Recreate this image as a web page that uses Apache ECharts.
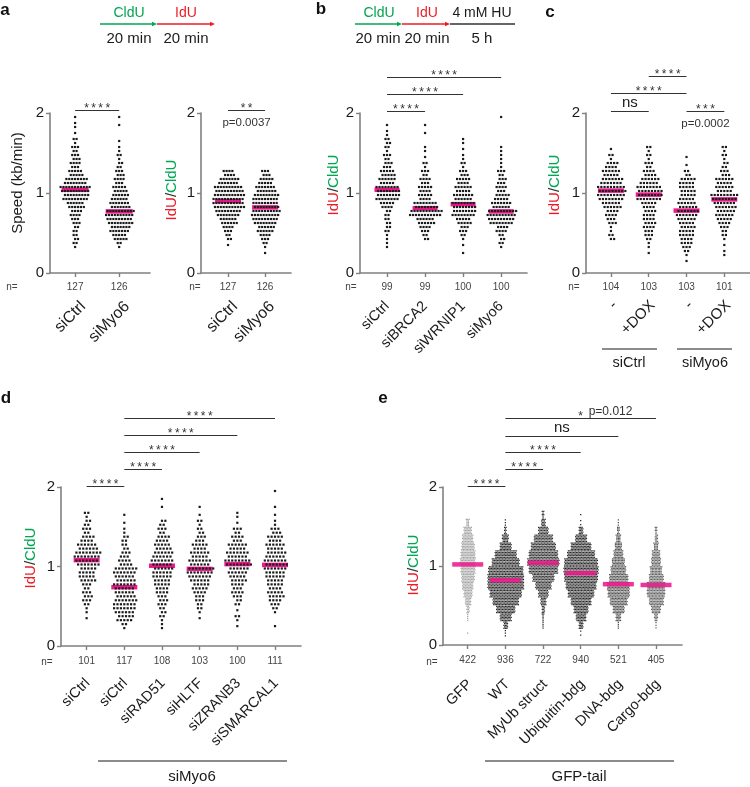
<!DOCTYPE html>
<html><head><meta charset="utf-8">
<script src="https://cdn.jsdelivr.net/npm/echarts@6.0.0/dist/echarts.min.js"></script>
<style>html,body{margin:0;padding:0;background:#fff}#c{width:750px;height:787px}</style>
</head><body><div id="c"></div>
<script>
// ---------------- DATA ----------------
const BIN = 0.1; // each histogram entry = number of dots in [k*0.1, (k+1)*0.1)
const yTicks = [0, 1, 2];

// panel a – speed
const aSpeedCats = ['siCtrl', 'siMyo6'];
const aSpeedN = [127, 126];
const aSpeedMed = [1.04, 0.77];
const aSpeed_siCtrl = [0,0,0,3,4,4,6,8,12,18,21,16,10,7,6,5,3,1,2,1];
const aSpeed_siMyo6 = [0,0,0,3,10,14,18,20,14,12,10,7,6,4,3,2,1,0,1,1];

// panel a – IdU/CldU
const aRatioCats = ['siCtrl', 'siMyo6'];
const aRatioN = [127, 126];
const aRatioMed = [0.90, 0.82];
const aRatio_siCtrl = [0,0,0,1,4,7,12,17,22,22,20,14,8,0,0,0,0,0,0,0];
const aRatio_siMyo6 = [0,0,1,3,7,12,17,20,18,18,14,10,6,0,0,0,0,0,0,0];

// panel b
const bCats = ['siCtrl', 'siBRCA2', 'siWRNIP1', 'siMyo6'];
const bN = [99, 99, 100, 100];
const bMed = [1.04, 0.81, 0.86, 0.77];
const b_siCtrl   = [0,0,0,2,2,4,4,4,9,16,16,11,10,6,5,3,4,2,1,0];
const b_siBRCA2  = [0,0,0,0,4,7,12,22,16,9,9,7,5,3,1,2,0,1,1,0];
const b_siWRNIP1 = [0,0,1,1,3,6,10,16,16,13,11,9,6,3,2,1,2,0,0,0];
const b_siMyo6   = [0,0,0,3,4,8,17,20,13,10,7,6,5,2,2,2,0,0,0,1];

// panel c
const cCats = ['-', '+DOX', '-', '+DOX'];
const cN = [104, 103, 103, 101];
const cMed = [1.03, 0.98, 0.78, 0.92];
const c_siCtrl_minus = [0,0,0,0,4,2,6,8,12,17,18,14,11,8,3,1,0,0,0,0];
const c_siCtrl_dox   = [0,0,1,2,5,7,8,8,9,16,16,12,8,5,3,3,0,0,0,0];
const c_siMyo6_minus = [0,1,3,7,9,10,11,14,12,10,10,10,4,1,1,0,0,0,0,0];
const c_siMyo6_dox   = [0,0,2,1,3,5,9,12,14,17,11,11,6,4,3,3,0,0,0,0];
const cGroups = ['siCtrl', 'siMyo6'];

// panel d
const dCats = ['siCtrl', 'siCtrl', 'siRAD51', 'siHLTF', 'siZRANB3', 'siSMARCAL1'];
const dN = [101, 117, 108, 103, 100, 111];
const dMed = [1.08, 0.74, 1.01, 0.97, 1.03, 1.02];
const d_siCtrl      = [0,0,0,1,2,5,6,5,10,10,14,16,12,8,5,4,3,0,0,0];
const d_siCtrlMyo6  = [0,0,3,10,13,14,12,13,12,14,8,6,4,4,2,1,1,0,0,0];
const d_siRAD51     = [0,0,2,3,4,6,7,9,11,12,13,12,10,8,5,4,0,1,1,0];
const d_siHLTF      = [0,0,0,1,3,5,7,10,13,16,13,11,9,6,4,3,1,1,0,0];
const d_siZRANB3    = [0,0,1,3,1,4,7,7,10,12,16,13,11,7,5,1,2,0,0,0];
const d_siSMARCAL1  = [0,0,1,0,3,7,10,9,11,13,14,12,11,9,6,2,1,1,0,1];
const dGroup = 'siMyo6';

// panel e
const eCats = ['GFP', 'WT', 'MyUb struct', 'Ubiquitin-bdg', 'DNA-bdg', 'Cargo-bdg'];
const eN = [422, 936, 722, 940, 521, 405];
const eMed = [1.02, 0.82, 1.04, 0.91, 0.77, 0.76];
const e_GFP   = [0,1,0,4,10,20,30,38,45,50,52,50,45,38,28,11,0,0,0,0];
const e_WT    = [0,3,15,40,65,90,110,125,125,120,95,75,40,22,8,3,0,0,0,0];
const e_MyUb  = [0,0,4,6,10,20,35,55,75,100,110,100,85,65,35,15,7,0,0,0];
const e_Ubq   = [0,2,15,35,50,70,90,105,115,120,115,95,70,40,15,2,1,0,0,0];
const e_DNA   = [0,0,4,18,40,60,75,78,65,52,44,33,24,16,9,3,0,0,0,0];
const e_Cargo = [0,0,3,12,32,50,62,62,50,41,32,28,16,10,7,0,0,0,0,0];
const eGroup = 'GFP-tail';

// significance brackets: [from, to, level, label, extra text, extra position]
const aSpeedSig = [[0, 1, 2.04, '****']];
const aRatioSig = [[0, 1, 2.04, '**', 'p=0.0037', 'below']];
const bSig = [[0, 1, 2.03, '****'], [0, 2, 2.24, '****'], [0, 3, 2.45, '****']];
const cSig = [[0, 1, 2.03, 'ns'], [0, 2, 2.25, '****'], [1, 2, 2.46, '****'], [2, 3, 2.03, '***', 'p=0.0002', 'below']];
const dSig = [[0, 1, 2.01, '****'], [1, 2, 2.23, '****'], [1, 3, 2.44, '****'], [1, 4, 2.65, '****'], [1, 5, 2.87, '****']];
const eSig = [[0, 1, 2.01, '****'], [1, 2, 2.23, '****'], [1, 3, 2.44, '****'], [1, 4, 2.65, 'ns'], [1, 5, 2.87, '*', 'p=0.012', 'right']];

// ---------------- LAYOUT / STYLE ----------------
const FONT = '"Liberation Sans", Arial, Helvetica, sans-serif';
const AXIS = '#808080';
const MAGENTA = '#ec1a8c';
const DOT = '#1a1a1a';

const panels = [
  {cats: aSpeedCats, n: aSpeedN, med: aSpeedMed, hists: [aSpeed_siCtrl, aSpeed_siMyo6], sig: aSpeedSig,
   left: 50, right: 150, top: 113, bottom: 273, min: -0.57, max: 1.70, nameMargin: 31, nMargin: 9, nameSize: 16, shift: 8,
   barW: 27, R: 2, pitch: 2.9, size: 2.2, colors: [DOT, DOT], barZ: 2, barOpacity: 1},
  {cats: aRatioCats, n: aRatioN, med: aRatioMed, hists: [aRatio_siCtrl, aRatio_siMyo6], sig: aRatioSig,
   left: 201, right: 291, top: 113, bottom: 273, min: -0.73, max: 1.70, nameMargin: 31, nMargin: 9, nameSize: 16, shift: 7,
   barW: 26, R: 2, pitch: 2.9, size: 2.2, colors: [DOT, DOT], barZ: 2, barOpacity: 1},
  {cats: bCats, n: bN, med: bMed, hists: [b_siCtrl, b_siBRCA2, b_siWRNIP1, b_siMyo6], sig: bSig,
   left: 360, right: 527, top: 113, bottom: 273, min: -0.71, max: 3.68, nameMargin: 31, nMargin: 9, nameSize: 14.5, shift: 0,
   barW: 25, R: 2, pitch: 3.0, size: 2.2, colors: [DOT, DOT, DOT, DOT], barZ: 2, barOpacity: 1},
  {cats: cCats, n: cN, med: cMed, hists: [c_siCtrl_minus, c_siCtrl_dox, c_siMyo6_minus, c_siMyo6_dox], sig: cSig,
   left: 586, right: 750, top: 113, bottom: 273, min: -0.66, max: 3.68, nameMargin: 30, nMargin: 9, nameSize: 15, shift: 4,
   barW: 26, R: 2, pitch: 3.2, size: 2.2, colors: [DOT, DOT, DOT, DOT], barZ: 2, barOpacity: 1},
  {cats: dCats, n: dN, med: dMed, hists: [d_siCtrl, d_siCtrlMyo6, d_siRAD51, d_siHLTF, d_siZRANB3, d_siSMARCAL1], sig: dSig,
   left: 61, right: 301, top: 487, bottom: 646, min: -0.68, max: 5.69, nameMargin: 35, nMargin: 10, nameSize: 14.5, shift: 1,
   barW: 26, R: 2, pitch: 3.4, size: 2.2, colors: [DOT, DOT, DOT, DOT, DOT, DOT], barZ: 2, barOpacity: 1},
  {cats: eCats, n: eN, med: eMed, hists: [e_GFP, e_WT, e_MyUb, e_Ubq, e_DNA, e_Cargo], sig: eSig,
   left: 443, right: 682, top: 487, bottom: 645, min: -0.656, max: 5.69, nameMargin: 37, nMargin: 10, nameSize: 14.5, shift: 2,
   barW: 31, R: 5, pitch: 1.45, size: 1.25, colors: ['#a3a3a3', '#262626', '#2e2e2e', '#262626', '#525252', '#616161'],
   barZ: 4, barOpacity: 0.88}
];

// ---------------- OPTION ----------------
const grid = [], xAxis = [], yAxis = [], series = [];

panels.forEach((p, gi) => {
  const idx = p.cats.map((_, i) => i);
  const unitPx = (p.right - p.left) / (p.max - p.min);
  const sh = p.shift / unitPx;
  grid.push({left: p.left, top: p.top, width: p.right - p.left, height: p.bottom - p.top,
             containLabel: false, outerBoundsMode: 'none'});
  // data axis (line + ticks)
  xAxis.push({
    type: 'value', gridIndex: gi, min: p.min, max: p.max, position: 'bottom',
    axisLine: {show: true, onZero: false, lineStyle: {color: AXIS, width: 1.6}},
    axisTick: {show: true, customValues: idx, length: 4, lineStyle: {color: AXIS, width: 1.4}},
    splitLine: {show: false}, axisLabel: {show: false}
  });
  // n labels
  xAxis.push({
    type: 'value', gridIndex: gi, min: p.min, max: p.max, position: 'bottom',
    axisLine: {show: false, onZero: false}, axisTick: {show: false}, splitLine: {show: false},
    axisLabel: {show: true, customValues: idx, margin: p.nMargin, fontSize: 10, color: '#444',
                fontFamily: FONT, formatter: v => String(p.n[Math.round(v)])}
  });
  // category names (rotated)
  xAxis.push({
    type: 'value', gridIndex: gi, min: p.min - sh, max: p.max - sh, position: 'bottom',
    axisLine: {show: false, onZero: false}, axisTick: {show: false}, splitLine: {show: false},
    axisLabel: {show: true, customValues: idx, rotate: 45, margin: p.nameMargin, fontSize: p.nameSize,
                color: '#1a1a1a', fontFamily: FONT, formatter: v => p.cats[Math.round(v)]}
  });
  yAxis.push({
    type: 'value', gridIndex: gi, min: yTicks[0], max: yTicks[yTicks.length - 1], interval: 1,
    axisLine: {show: true, onZero: false, lineStyle: {color: AXIS, width: 1.6}},
    axisTick: {show: true, length: 4, lineStyle: {color: AXIS, width: 1.4}},
    splitLine: {show: false},
    axisLabel: {fontSize: 15, margin: 6, color: '#1a1a1a', fontFamily: FONT}
  });

  const xi = gi * 3;
  // median bars
  series.push({
    type: 'scatter', xAxisIndex: xi, yAxisIndex: gi, silent: true, z: p.barZ,
    symbol: 'rect', symbolSize: [p.barW, 4.5], itemStyle: {color: MAGENTA, opacity: p.barOpacity},
    data: p.med.map((m, i) => [i, m])
  });

  // dots (beeswarm of binned values)
  const dotData = [];
  p.hists.forEach((h, g) => h.forEach((c, b) => { if (c > 0) dotData.push([g, b * BIN, c]); }));
  series.push({
    type: 'custom', xAxisIndex: xi, yAxisIndex: gi, silent: true, z: 3,
    encode: {x: 0, y: 1}, data: dotData,
    renderItem: (params, api) => {
      const g = api.value(0), lo = api.value(1), c = api.value(2);
      const top = api.coord([g, lo + BIN]);
      const bot = api.coord([g, lo]);
      const h = bot[1] - top[1];
      const rows = Math.min(c, p.R);
      const base = Math.floor(c / rows), extra = c % rows;
      const kids = [];
      const order = [];
      for (let r = 0; r < rows; r++) order.push(r);
      const bonus = order.filter((r, i) => i % 2 === 0).concat(order.filter((r, i) => i % 2 === 1)).slice(0, extra);
      const binIdx = Math.round(lo / BIN);
      for (let r = 0; r < rows; r++) {
        const k = base + (bonus.indexOf(r) >= 0 ? 1 : 0);
        const y = top[1] + h * (r + 0.5) / rows;
        const stag = (extra === 0 && k > 1 && (r + binIdx) % 2 === 1) ? p.pitch / 2 : 0;
        for (let j = 0; j < k; j++) {
          const x = top[0] + (j - (k - 1) / 2) * p.pitch + stag;
          kids.push({type: 'rect', shape: {x: x - p.size / 2, y: y - p.size / 2, width: p.size, height: p.size},
                     style: {fill: p.colors[g]}});
        }
      }
      return {type: 'group', children: kids};
    }
  });

  // significance brackets
  series.push({
    type: 'custom', xAxisIndex: xi, yAxisIndex: gi, silent: true, z: 5, clip: false,
    encode: {x: [0, 1], y: 2}, data: p.sig.map(s => [s[0], s[1], s[2]]),
    renderItem: (params, api) => {
      const s = p.sig[params.dataIndex];
      const p1 = api.coord([api.value(0), api.value(2)]);
      const p2 = api.coord([api.value(1), api.value(2)]);
      const y = Math.round(p1[1]) + 0.5, mid = (p1[0] + p2[0]) / 2;
      const kids = [{type: 'line', shape: {x1: p1[0], y1: y, x2: p2[0], y2: y}, style: {stroke: '#333', lineWidth: 1.2}}];
      if (s[3] === 'ns') {
        kids.push({type: 'text', x: mid, y: y - 1, style: {text: 'ns', font: '15px ' + FONT, fill: '#1a1a1a', align: 'center', verticalAlign: 'bottom'}});
      } else {
        const stars = s[3].split('').join('\u2009');
        kids.push({type: 'text', x: mid, y: y - 2, style: {text: stars, font: '12px ' + FONT, fill: '#333', align: 'center', verticalAlign: 'middle'}});
      }
      if (s[4]) {
        if (s[5] === 'below') {
          kids.push({type: 'text', x: mid, y: y + 12, style: {text: s[4], font: '11.5px ' + FONT, fill: '#333', align: 'center', verticalAlign: 'middle'}});
        } else {
          kids.push({type: 'text', x: mid + 8, y: y - 1, style: {text: s[4], font: '12px ' + FONT, fill: '#333', align: 'left', verticalAlign: 'bottom'}});
        }
      }
      return {type: 'group', children: kids};
    }
  });
});

// ---------------- ANNOTATIONS (graphic) ----------------
const G = [];
function txt(x, y, s, size, color, extra) {
  G.push(Object.assign({type: 'text', x, y, silent: true,
    style: {text: s, font: size + 'px ' + FONT, fill: color || '#1a1a1a', align: 'center', verticalAlign: 'middle'}}, extra || {}));
}
function ratioTitle(x, y) {
  G.push({type: 'text', x, y, rotation: Math.PI / 2, silent: true,
    style: {text: '{r|IdU}{k|/}{g|CldU}', font: '15px ' + FONT, align: 'center', verticalAlign: 'middle',
      rich: {r: {fill: '#ed1c24', font: '15px ' + FONT}, k: {fill: '#333', font: '15px ' + FONT}, g: {fill: '#00a651', font: '15px ' + FONT}}}});
}
function hline(x1, x2, y, color, w) {
  G.push({type: 'line', silent: true, shape: {x1, y1: y, x2, y2: y}, style: {stroke: color, lineWidth: w}});
}
function arrow(x1, x2, y, color) {
  hline(x1, x2 - 3, y, color, 1.3);
  G.push({type: 'polygon', silent: true, shape: {points: [[x2 - 5, y - 2.2], [x2, y], [x2 - 5, y + 2.2]]}, style: {fill: color}});
}
// panel letters
['a', 'b', 'c', 'd', 'e'].forEach((l, i) => {
  const pos = [[5, 10], [321, 9], [550, 12], [6, 398], [383, 398]][i];
  G.push({type: 'text', x: pos[0], y: pos[1], silent: true,
    style: {text: l, font: 'bold 17px ' + FONT, fill: '#111', align: 'center', verticalAlign: 'middle'}});
});
// headers
txt(129, 13, 'CldU', 14, '#00a651');
txt(186, 13, 'IdU', 14, '#ed1c24');
arrow(100, 157, 24, '#00a651');
arrow(157, 215, 24, '#ed1c24');
txt(129, 39, '20 min', 15);
txt(186, 39, '20 min', 15);

txt(379, 13, 'CldU', 14, '#00a651');
txt(427, 13, 'IdU', 14, '#ed1c24');
txt(482, 13, '4 mM HU', 14);
arrow(355, 402, 24, '#00a651');
arrow(402, 450, 24, '#ed1c24');
hline(450, 515, 24, '#333', 1.3);
txt(378, 39, '20 min', 15);
txt(427, 39, '20 min', 15);
txt(482, 39, '5 h', 15);

// y axis titles
G.push({type: 'text', x: 18, y: 183, rotation: Math.PI / 2, silent: true,
  style: {text: 'Speed (kb/min)', font: '15px ' + FONT, fill: '#1a1a1a', align: 'center', verticalAlign: 'middle'}});
ratioTitle(172, 190);
ratioTitle(334, 185);
ratioTitle(555, 185);
ratioTitle(31, 558);
ratioTitle(414, 565);

// n= labels
[[12, 287], [195, 287], [351, 287], [574, 287], [47, 662], [432, 662]].forEach(p => txt(p[0], p[1], 'n=', 10, '#444'));

// group underlines
hline(602, 657, 349, '#8c8c8c', 2);
hline(677, 732, 349, '#8c8c8c', 2);
txt(629, 363, cGroups[0], 14.5);
txt(705, 363, cGroups[1], 14.5);
hline(98, 287, 761, '#8c8c8c', 2);
txt(192, 777, dGroup, 15);
hline(485, 674, 761, '#8c8c8c', 2);
txt(579, 777, eGroup, 15);

const chart = echarts.init(document.getElementById('c'), null, {renderer: 'canvas', width: 750, height: 787});
chart.setOption({
  animation: false,
  backgroundColor: '#fff',
  textStyle: {fontFamily: FONT},
  grid, xAxis, yAxis, series,
  graphic: G
});
</script>
</body></html>
